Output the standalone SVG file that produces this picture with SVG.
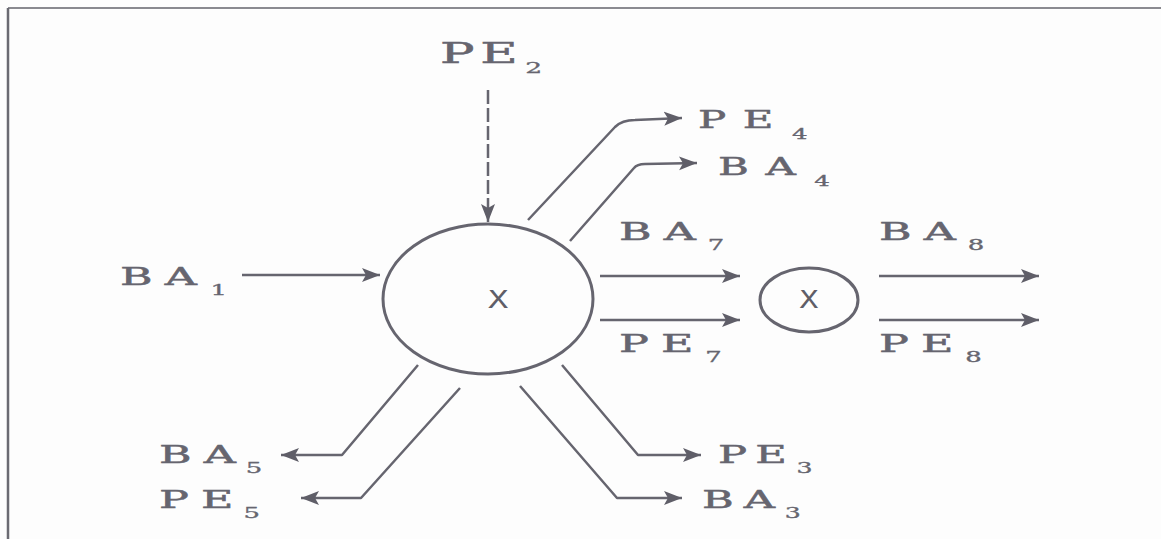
<svg xmlns="http://www.w3.org/2000/svg" width="1161" height="539" viewBox="0 0 1161 539">
<style>
.lbl{font-family:"DejaVu Serif","Liberation Serif",serif;font-size:24px;fill:#66656f;letter-spacing:6.5px;stroke:#66656f;stroke-width:0.5px}
.sub{font-size:14px;letter-spacing:0;stroke-width:0.3px}
.x{font-family:"DejaVu Sans Mono","Liberation Mono",monospace;font-size:24px;fill:#5f5e68;text-anchor:middle}
.node{fill:none;stroke:#66656f;stroke-width:3}
.c{fill:none;stroke:#66656f;stroke-width:2.5;stroke-linejoin:round}
</style>
<defs>
<marker id="ah" markerUnits="userSpaceOnUse" markerWidth="20" markerHeight="16" refX="18" refY="8" orient="auto">
<path d="M0,1 L18,8 L0,15 L4,8 z" fill="#5f5e68"/>
</marker>
</defs>
<rect width="1161" height="539" fill="#fdfdfd"/>
<g id="frame">
<line x1="8" y1="8" x2="1161" y2="8" stroke="#8a8a90" stroke-width="2"/>
<line x1="8" y1="8" x2="8" y2="539" stroke="#6a6a72" stroke-width="2.5"/>
</g>
<g id="node-main">
<ellipse class="node" cx="488" cy="299" rx="105" ry="75"/>
<text class="x" transform="translate(498,308) scale(1.4,1)">X</text>
</g>
<g id="node-small">
<ellipse class="node" cx="809" cy="300" rx="49" ry="32"/>
<text class="x" transform="translate(809,308) scale(1.3,1)">X</text>
</g>
<g id="connectors">
<line class="c" x1="242" y1="275" x2="380" y2="275" marker-end="url(#ah)"/>
<line class="c" x1="488" y1="90" x2="488" y2="222" stroke-dasharray="14,4" marker-end="url(#ah)"/>
<path class="c" d="M528,220 L615,127 Q622,120 635,120 L682,118" stroke-width="4" marker-end="url(#ah)"/>
<path class="c" d="M570,241 L634,168 Q637,164 645,164 L697,163" marker-end="url(#ah)"/>
<line class="c" x1="600" y1="276" x2="740" y2="276" marker-end="url(#ah)"/>
<line class="c" x1="600" y1="320" x2="740" y2="320" marker-end="url(#ah)"/>
<line class="c" x1="879" y1="276" x2="1039" y2="276" marker-end="url(#ah)"/>
<line class="c" x1="879" y1="320" x2="1039" y2="320" marker-end="url(#ah)"/>
<path class="c" d="M418,365 L342,455 L281,455" marker-end="url(#ah)"/>
<path class="c" d="M460,388 L361,498 L301,498" marker-end="url(#ah)"/>
<path class="c" d="M562,365 L638,455 L701,455" marker-end="url(#ah)"/>
<path class="c" d="M520,386 L617,498 L682,498" marker-end="url(#ah)"/>
</g>
<g id="labels">
<text class="lbl" transform="translate(440,63) scale(1.9,1)" style="font-size:27px;letter-spacing:3px">PE<tspan class="sub" dx="1" dy="10">2</tspan></text>
<text class="lbl" transform="translate(698,128) scale(1.75,1)" style="letter-spacing:9.5px">PE<tspan class="sub" dx="1" dy="11">4</tspan></text>
<text class="lbl" transform="translate(718,175) scale(1.75,1)" style="letter-spacing:9.5px">BA<tspan class="sub" dx="1" dy="11">4</tspan></text>
<text class="lbl" transform="translate(619,240) scale(1.85,1)">BA<tspan class="sub" dx="0" dy="10">7</tspan></text>
<text class="lbl" transform="translate(619,352) scale(1.85,1)">PE<tspan class="sub" dx="0" dy="10">7</tspan></text>
<text class="lbl" transform="translate(879,240) scale(1.85,1)">BA<tspan class="sub" dx="0" dy="10">8</tspan></text>
<text class="lbl" transform="translate(879,352) scale(1.85,1)">PE<tspan class="sub" dx="0" dy="10">8</tspan></text>
<text class="lbl" transform="translate(120,285) scale(1.85,1)">BA<tspan class="sub" dx="1" dy="10">1</tspan></text>
<text class="lbl" transform="translate(159,463) scale(1.85,1)">BA<tspan class="sub" dx="-1" dy="10">5</tspan></text>
<text class="lbl" transform="translate(159,508) scale(1.85,1)">PE<tspan class="sub" dx="-1" dy="10">5</tspan></text>
<text class="lbl" transform="translate(718,463) scale(1.8,1)" style="letter-spacing:4.5px">PE<tspan class="sub" dx="1" dy="10">3</tspan></text>
<text class="lbl" transform="translate(702,508) scale(1.8,1)" style="letter-spacing:5.5px">BA<tspan class="sub" dx="0" dy="10">3</tspan></text>
</g>
</svg>
